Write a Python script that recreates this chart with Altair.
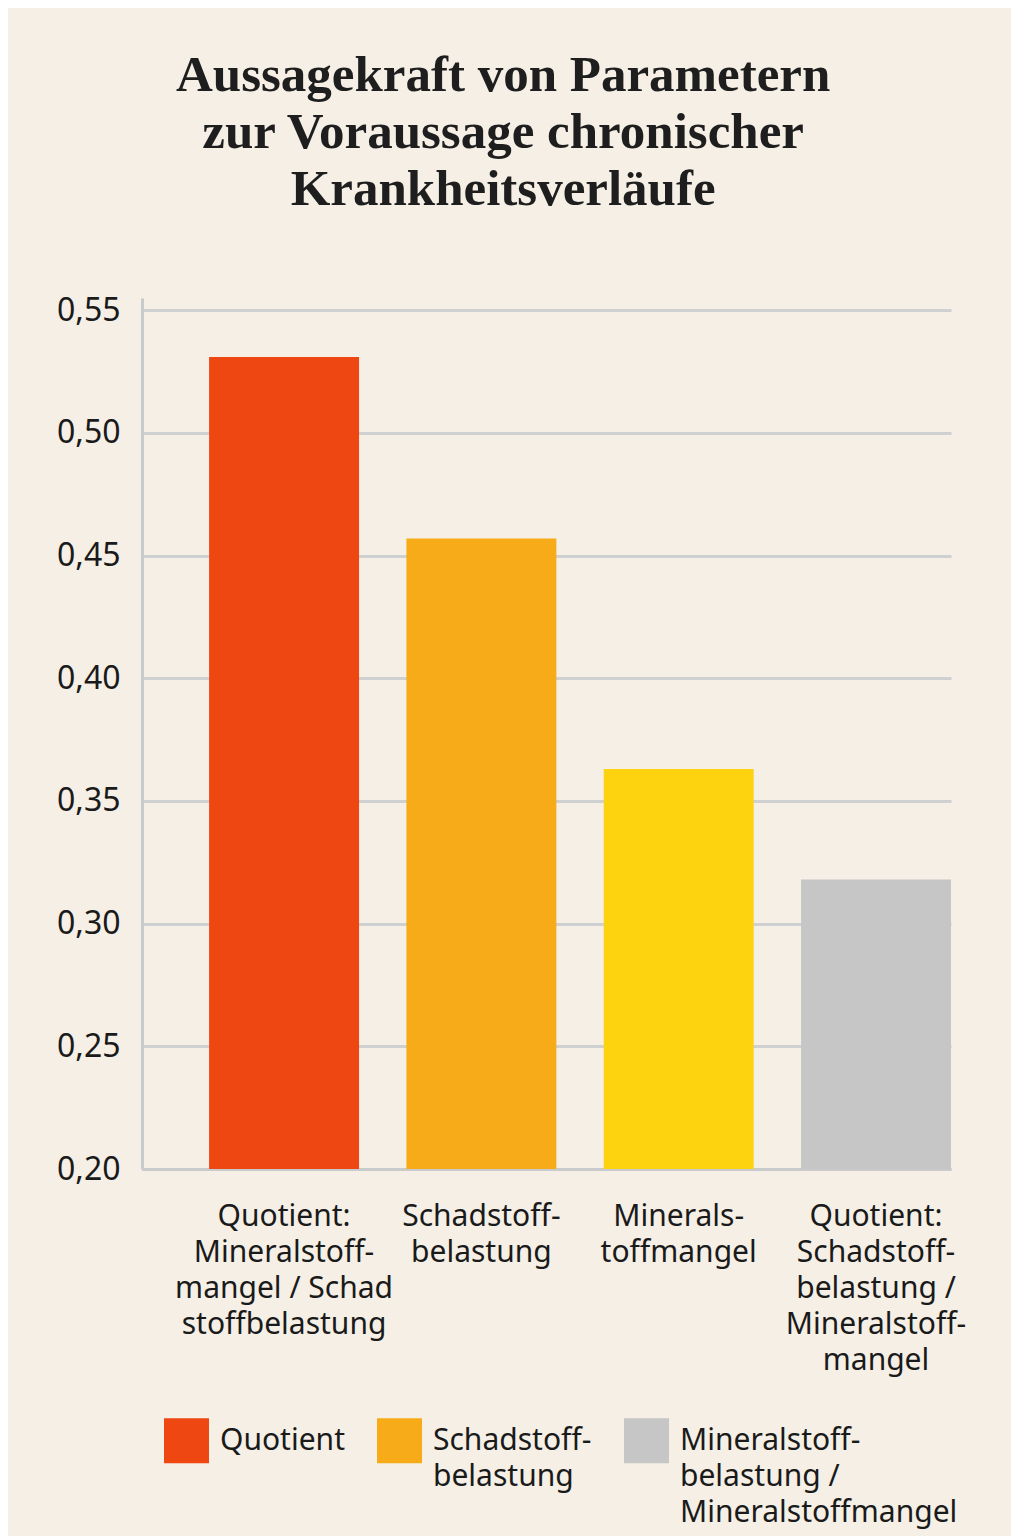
import altair as alt
import pandas as pd

# ---- data ----
categories = [
    "Quotient:|Mineralstoff-|mangel / Schad|stoffbelastung",
    "Schadstoff-|belastung",
    "Minerals-|toffmangel",
    "Quotient:|Schadstoff-|belastung /|Mineralstoff-|mangel",
]
values = [0.531, 0.457, 0.363, 0.318]
bar_colors = ["#ee4712", "#f7ab18", "#fdd30f", "#c6c6c6"]

legend_labels = ["Quotient", "Schadstoff-|belastung", "Mineralstoff-|belastung /|Mineralstoffmangel"]
legend_colors = ["#ee4712", "#f7ab18", "#c6c6c6"]

y_ticks = [0.20, 0.25, 0.30, 0.35, 0.40, 0.45, 0.50, 0.55]
title_lines = ["Aussagekraft von Parametern", "zur Voraussage chronischer", "Krankheitsverläufe"]

bars_df = pd.DataFrame({"cat": categories, "value": values, "color": bar_colors})
legend_df = pd.DataFrame({"label": legend_labels})

x_enc = alt.X(
    "cat:N",
    sort=None,
    title=None,
    scale=alt.Scale(paddingInner=0.24, paddingOuter=0.17, align=1),
    axis=alt.Axis(
        labelAngle=0,
        labelAlign="center",
        labelBaseline="top",
        labelPadding=32,
        labelLineHeight=36,
        labelFontSize=30,
        labelFont="Noto Sans",
        labelColor="#1a1a1a",
        labelLimit=400,
        ticks=False,
        domain=True,
        domainColor="#c9cacb",
        domainWidth=3,
        grid=False,
        labelExpr="split(datum.label, '|')",
    ),
)

y_scale = alt.Scale(domain=[0.2, 0.555], zero=False, nice=False)

bars = alt.Chart(bars_df).mark_bar().encode(
    x=x_enc,
    y=alt.Y(
        "value:Q",
        scale=y_scale,
        title=None,
        axis=alt.Axis(
            values=y_ticks,
            labelExpr="replace(format(datum.value, '.2f'), '.', ',')",
            labelFontSize=32,
            labelFont="Noto Sans",
            labelColor="#1a1a1a",
            labelPadding=22,
            ticks=False,
            domain=True,
            domainColor="#c9cacb",
            domainWidth=3,
            grid=True,
            gridColor="#cfd0d1",
            gridWidth=3,
        ),
    ),
    y2=alt.datum(0.2),
    fill=alt.Fill("color:N", scale=None),
)

# pad every legend label to three lines so all entries share one height
legend_label_expr = (
    "split(datum.label + slice('||', 0, 3 - length(split(datum.label, '|'))), '|')"
)

legend_layer = alt.Chart(legend_df).mark_square(filled=True, opacity=0).encode(
    color=alt.Color(
        "label:N",
        sort=None,
        scale=alt.Scale(domain=legend_labels, range=legend_colors),
        legend=alt.Legend(
            title=None,
            orient="none",
            legendX=22,
            legendY=1120,
            padding=0,
            direction="horizontal",
            columns=3,
            columnPadding=32,
            labelFontSize=30,
            labelFont="Noto Sans",
            labelColor="#1a1a1a",
            labelLimit=400,
            labelOffset=11,
            labelBaseline="middle",
            labelExpr=legend_label_expr,
            symbolType="square",
            symbolSize=2025,
            symbolOpacity=1,
            symbolStrokeWidth=0,
        ),
    )
)

chart = (
    alt.layer(bars, legend_layer)
    .properties(
        width=809,
        height=871,
        padding={"left": 48, "top": 42, "right": 45, "bottom": 8},
        title=alt.TitleParams(
            text=title_lines,
            font="Liberation Serif",
            fontSize=51,
            fontWeight="bold",
            color="#1e1e1e",
            lineHeight=57,
            anchor="middle",
            frame="bounds",
            dx=-8,
            offset=78,
        ),
    )
    .configure(background="#f5efe6", style={"guide-label": {"lineHeight": 36}})
    .configure_view(stroke=None)
)

chart.save("out.html", embed_options={"renderer": "svg", "actions": False})
